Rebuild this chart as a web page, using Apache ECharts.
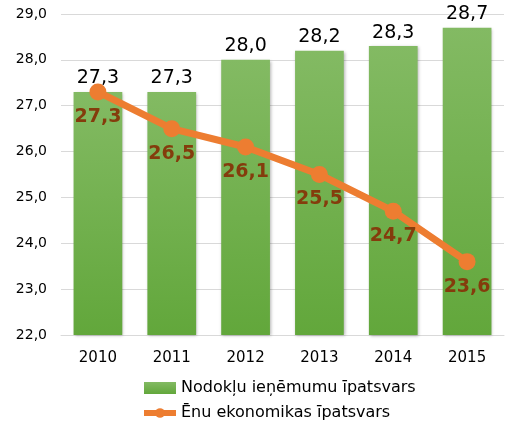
<!DOCTYPE html>
<html><head><meta charset="utf-8">
<script src="https://cdn.jsdelivr.net/npm/echarts@6/dist/echarts.min.js"></script>
<style>html,body{margin:0;padding:0;background:#fff}#c{width:516px;height:428px}</style>
</head><body><div id="c"></div>
<script>
const categories = ['2010','2011','2012','2013','2014','2015'];
const taxShare = [27.3, 27.3, 28.0, 28.2, 28.3, 28.7];
const shadowShare = [27.3, 26.5, 26.1, 25.5, 24.7, 23.6];
const yTicks = [22, 23, 24, 25, 26, 27, 28, 29];
const seriesNames = ['Nodokļu ieņēmumu īpatsvars', 'Ēnu ekonomikas īpatsvars'];

const fmt = v => v.toFixed(1).replace('.', ',');
const font = 'Tahoma, "DejaVu Sans", Verdana, sans-serif';
const chart = echarts.init(document.getElementById('c'));
chart.setOption({
  animation: false,
  textStyle: {fontFamily: font},
  grid: {left: 61, right: 12, top: 14, bottom: 93},
  legend: {
    orient: 'vertical', left: 136, top: 375, itemGap: 9,
    itemWidth: 32, itemHeight: 12,
    textStyle: {fontSize: 16, color: '#000', fontFamily: font},
    data: [
      {name: seriesNames[0], icon: 'rect'},
      {name: seriesNames[1], lineStyle: {width: 6}}
    ]
  },
  xAxis: {
    type: 'category', data: categories,
    axisLine: {lineStyle: {color: '#d9d9d9', width: 1}},
    axisTick: {show: false},
    axisLabel: {fontSize: 15, color: '#000', margin: 16}
  },
  yAxis: {
    type: 'value', min: yTicks[0], max: yTicks[yTicks.length-1], interval: 1,
    axisLine: {show: false}, axisTick: {show: false},
    splitLine: {lineStyle: {color: '#d9d9d9'}},
    axisLabel: {fontSize: 14, color: '#000', formatter: v => fmt(v), margin: 14}
  },
  series: [{
    name: seriesNames[0], type: 'bar', data: taxShare, barWidth: '66%',
    itemStyle: {
      color: new echarts.graphic.LinearGradient(0,0,0,1,[{offset:0,color:'#83ba63'},{offset:1,color:'#62a73b'}]),
      shadowColor: 'rgba(0,0,0,0.3)', shadowBlur: 3, shadowOffsetX: 1, shadowOffsetY: 1
    },
    label: {show: true, position: 'top', distance: 4, fontSize: 19, color: '#000', formatter: p => fmt(p.value)}
  }, {
    name: seriesNames[1], type: 'line', data: shadowShare,
    symbol: 'circle', symbolSize: 17,
    lineStyle: {color: '#ed7d31', width: 7},
    itemStyle: {color: '#ed7d31'},
    label: {show: true, position: 'bottom', distance: 7, fontSize: 19, fontWeight: 'bold', color: '#843c0c', formatter: p => fmt(p.value)},
    z: 5
  }]
});
</script></body></html>
